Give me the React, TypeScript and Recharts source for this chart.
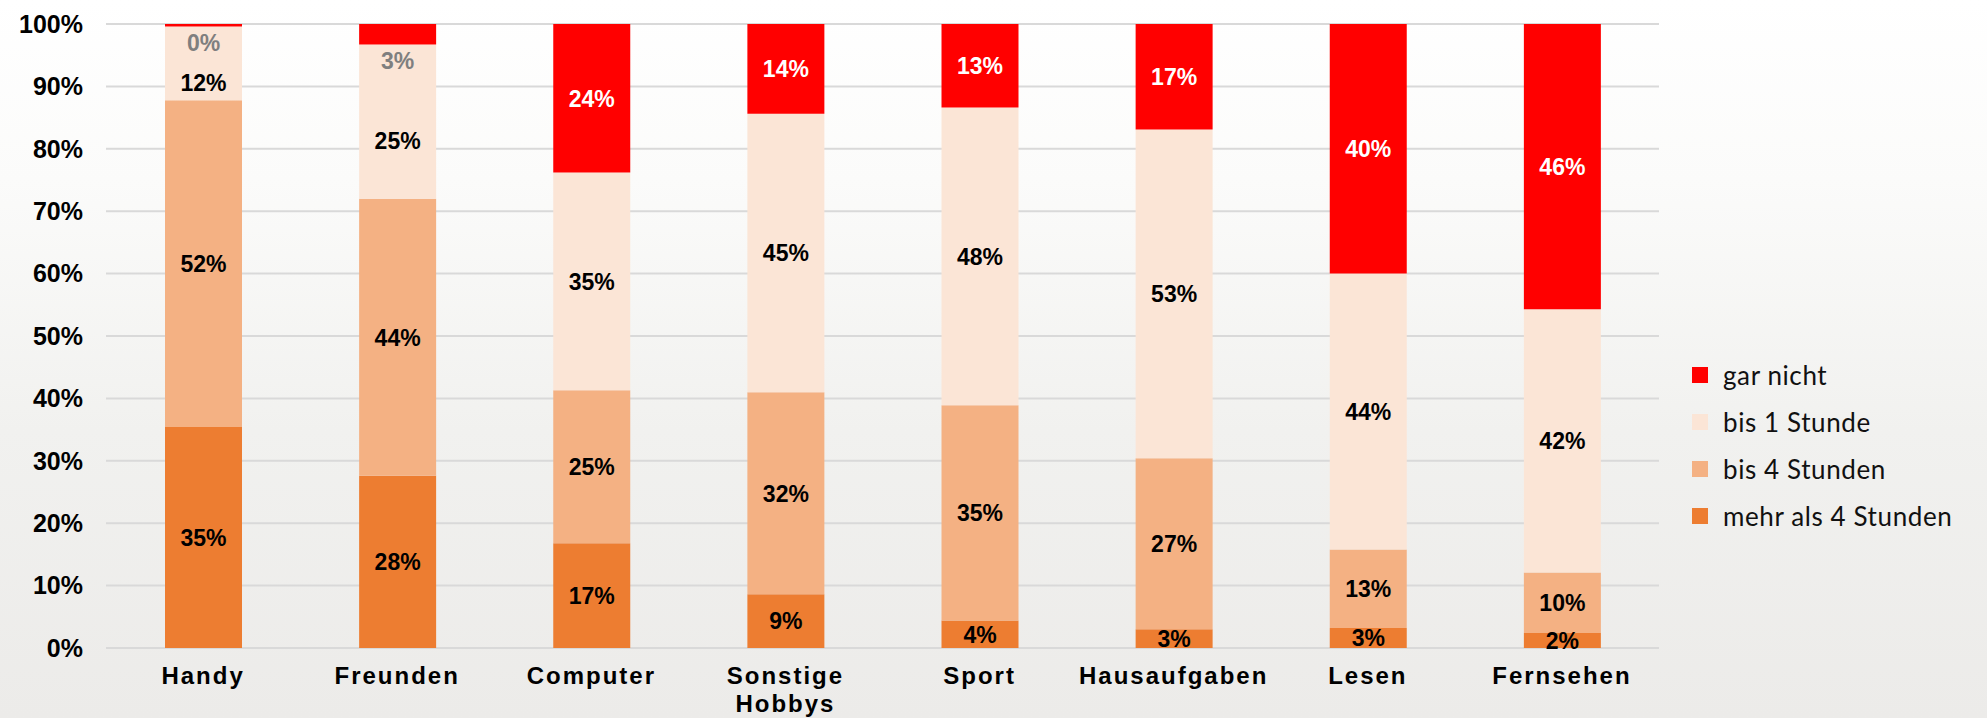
import React from 'react';
import { BarChart, Bar, XAxis, YAxis, CartesianGrid, LabelList, Legend } from 'recharts';

const categories = ['Handy', 'Freunden', 'Computer', 'Sonstige Hobbys', 'Sport', 'Hausaufgaben', 'Lesen', 'Fernsehen'];
const mehrAls4 = [35.4, 27.6, 16.8, 8.6, 4.4, 3.0, 3.2, 2.4];
const bis4 = [52.4, 44.4, 24.5, 32.4, 34.5, 27.4, 12.6, 9.7];
const bis1 = [11.8, 24.7, 34.9, 44.6, 47.7, 52.7, 44.2, 42.2];
const garNicht = [0.4, 3.3, 23.8, 14.4, 13.4, 16.9, 40.0, 45.7];
const yTicks = [0, 10, 20, 30, 40, 50, 60, 70, 80, 90, 100];

const seriesNames = ['mehr als 4 Stunden', 'bis 4 Stunden', 'bis 1 Stunde', 'gar nicht'];
const seriesColors = ['#ED7D31', '#F4B183', '#FBE5D6', '#FF0000'];

const data = categories.map((c, i) => ({
  name: c,
  mehr: mehrAls4[i],
  bis4: bis4[i],
  bis1: bis1[i],
  gar: garNicht[i],
}));

const AXIS_FONT = '"Liberation Sans", Arial, sans-serif';

const makeLabel = (key: string, color: string) => (props: any) => {
  const { x, y, width, height, value, index } = props;
  let cy = Number(y) + Number(height) / 2;
  let fill = color;
  if (key === 'gar' && value < 5) {
    cy = Number(y) + Number(height) + 16;
    fill = '#7f7f7f';
  }
  if (key === 'bis1' && garNicht[index] < 5) {
    cy += 19;
  }
  return (
    <text
      x={Number(x) + Number(width) / 2}
      y={cy}
      dy="0.36em"
      textAnchor="middle"
      fill={fill}
      fontFamily={AXIS_FONT}
      fontWeight={700}
      fontSize={23}
    >
      {Math.round(value)}%
    </text>
  );
};

const XTick = (props: any) => {
  const { x, y, payload } = props;
  const lines = String(payload.value).split(' ');
  return (
    <text
      x={x}
      y={y + 36}
      textAnchor="middle"
      fill="#000"
      fontFamily={AXIS_FONT}
      fontWeight={700}
      fontSize={24}
      letterSpacing={2}
    >
      {lines.map((l, i) => (
        <tspan key={i} x={x} dy={i === 0 ? 0 : 28}>
          {l}
        </tspan>
      ))}
    </text>
  );
};

const renderLegend = () => {
  const order = [3, 2, 1, 0];
  return (
    <div style={{ display: 'flex', flexDirection: 'column' }}>
      {order.map((idx) => (
        <div key={idx} style={{ display: 'flex', alignItems: 'center', height: 47 }}>
          <div style={{ width: 16, height: 16, background: seriesColors[idx], marginRight: 15 }} />
          <span
            style={{
              fontFamily: 'Lato, "Noto Sans", sans-serif',
              fontSize: 26,
              letterSpacing: 0.6,
              color: '#111',
              whiteSpace: 'nowrap',
            }}
          >
            {seriesNames[idx]}
          </span>
        </div>
      ))}
    </div>
  );
};

export default function App() {
  const keys = ['mehr', 'bis4', 'bis1', 'gar'];
  const labelColors = ['#000', '#000', '#000', '#fff'];
  return (
    <div
      style={{
        position: 'absolute',
        left: 0,
        top: 0,
        width: 1987,
        height: 718,
        background: 'linear-gradient(to bottom, #ffffff 0%, #fbfbfa 25%, #f1f1ef 60%, #ecebe9 100%)',
        overflow: 'hidden',
      }}
    >
      <BarChart
        width={1987}
        height={718}
        data={data}
        margin={{ top: 24, right: 328, bottom: 0, left: 0 }}
      >
        <CartesianGrid vertical={false} stroke="#d9d9d9" strokeWidth={2} />
        <XAxis
          dataKey="name"
          height={70}
          axisLine={false}
          tickLine={false}
          tickSize={0}
          tickMargin={0}
          interval={0}
          tick={<XTick />}
        />
        <YAxis
          width={106}
          domain={[0, 100]}
          ticks={yTicks}
          axisLine={false}
          tickLine={false}
          tickSize={0}
          tickMargin={23}
          tickFormatter={(v: number) => `${v}%`}
          tick={{ fontSize: 25, fontWeight: 700, fill: '#000', fontFamily: AXIS_FONT }}
        />
        <Legend
          layout="vertical"
          align="center"
          verticalAlign="middle"
          content={renderLegend}
          wrapperStyle={{ position: 'absolute', left: 1692, top: 351, width: 295 }}
        />
        {keys.map((k, i) => (
          <Bar
            key={k}
            dataKey={k}
            name={seriesNames[i]}
            stackId="a"
            fill={seriesColors[i]}
            barSize={77}
            isAnimationActive={false}
          >
            <LabelList dataKey={k} content={makeLabel(k, labelColors[i])} />
          </Bar>
        ))}
      </BarChart>
    </div>
  );
}
